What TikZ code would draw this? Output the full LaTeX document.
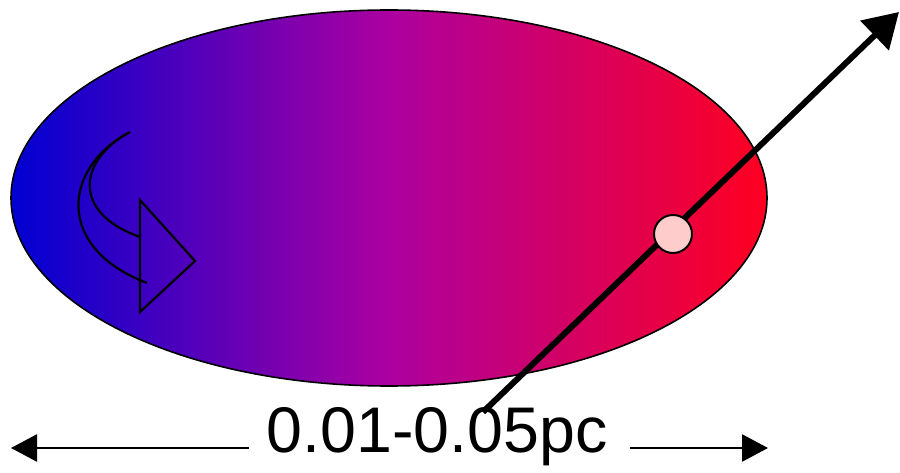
\documentclass[tikz,border=0pt]{standalone}
\usepackage{fontspec}
\setmainfont{Liberation Sans}
\usetikzlibrary{shapes.geometric,arrows.meta}
\definecolor{lblue}{RGB}{0,0,210}
\definecolor{mmag}{RGB}{172,0,160}
\definecolor{rred}{RGB}{255,0,32}
\definecolor{pinkfill}{RGB}{255,204,204}
\tikzset{
  outline/.style={draw=black, line width=1.6pt},
  dimarrow/.style={line width=2.6pt, -{Triangle[length=26pt,width=27pt]}},
  bigarrow/.style={line width=6pt, -{Triangle[length=34pt,width=40pt]}},
  curvy/.style={draw=black, line width=2.2pt, line join=miter},
}
\begin{document}
\begin{tikzpicture}[x=1pt,y=-1pt]
\useasboundingbox (0,0) rectangle (900,473);
\fill[white] (0,0) rectangle (900,473);
% ellipse
\node[ellipse, outline, minimum width=756pt, minimum height=376pt, inner sep=0pt,
      left color=lblue, right color=rred, middle color=mmag] (ell) at (389,198) {};
% curved arrow symbol
\draw[curvy] (130,132) .. controls (62,168) and (55,248) .. (147,283);
\draw[curvy] (128,133) .. controls (80,160) and (70,212) .. (140,237);
\draw[curvy] (140,200) -- (195,261) -- (140,312) -- cycle;
% big arrow
\coordinate (bstart) at (483,412);
\coordinate (bend) at (899,12);
\draw[bigarrow] (bstart) -- (bend);
% pink dot
\node[circle, draw=black, line width=2pt, fill=pinkfill, minimum size=38pt, inner sep=0pt] (dot) at (673,234) {};
% dimension
\node[inner sep=0pt, font=\fontsize{64.5}{72}\selectfont] (lab) at (437,437) {0.01-0.05pc};
\coordinate (dl0) at (249,448);
\coordinate (dl1) at (11,448);
\coordinate (dr0) at (630,448);
\coordinate (dr1) at (768,448);
\draw[dimarrow] (dl0) -- (dl1);
\draw[dimarrow] (dr0) -- (dr1);
\end{tikzpicture}
\end{document}
